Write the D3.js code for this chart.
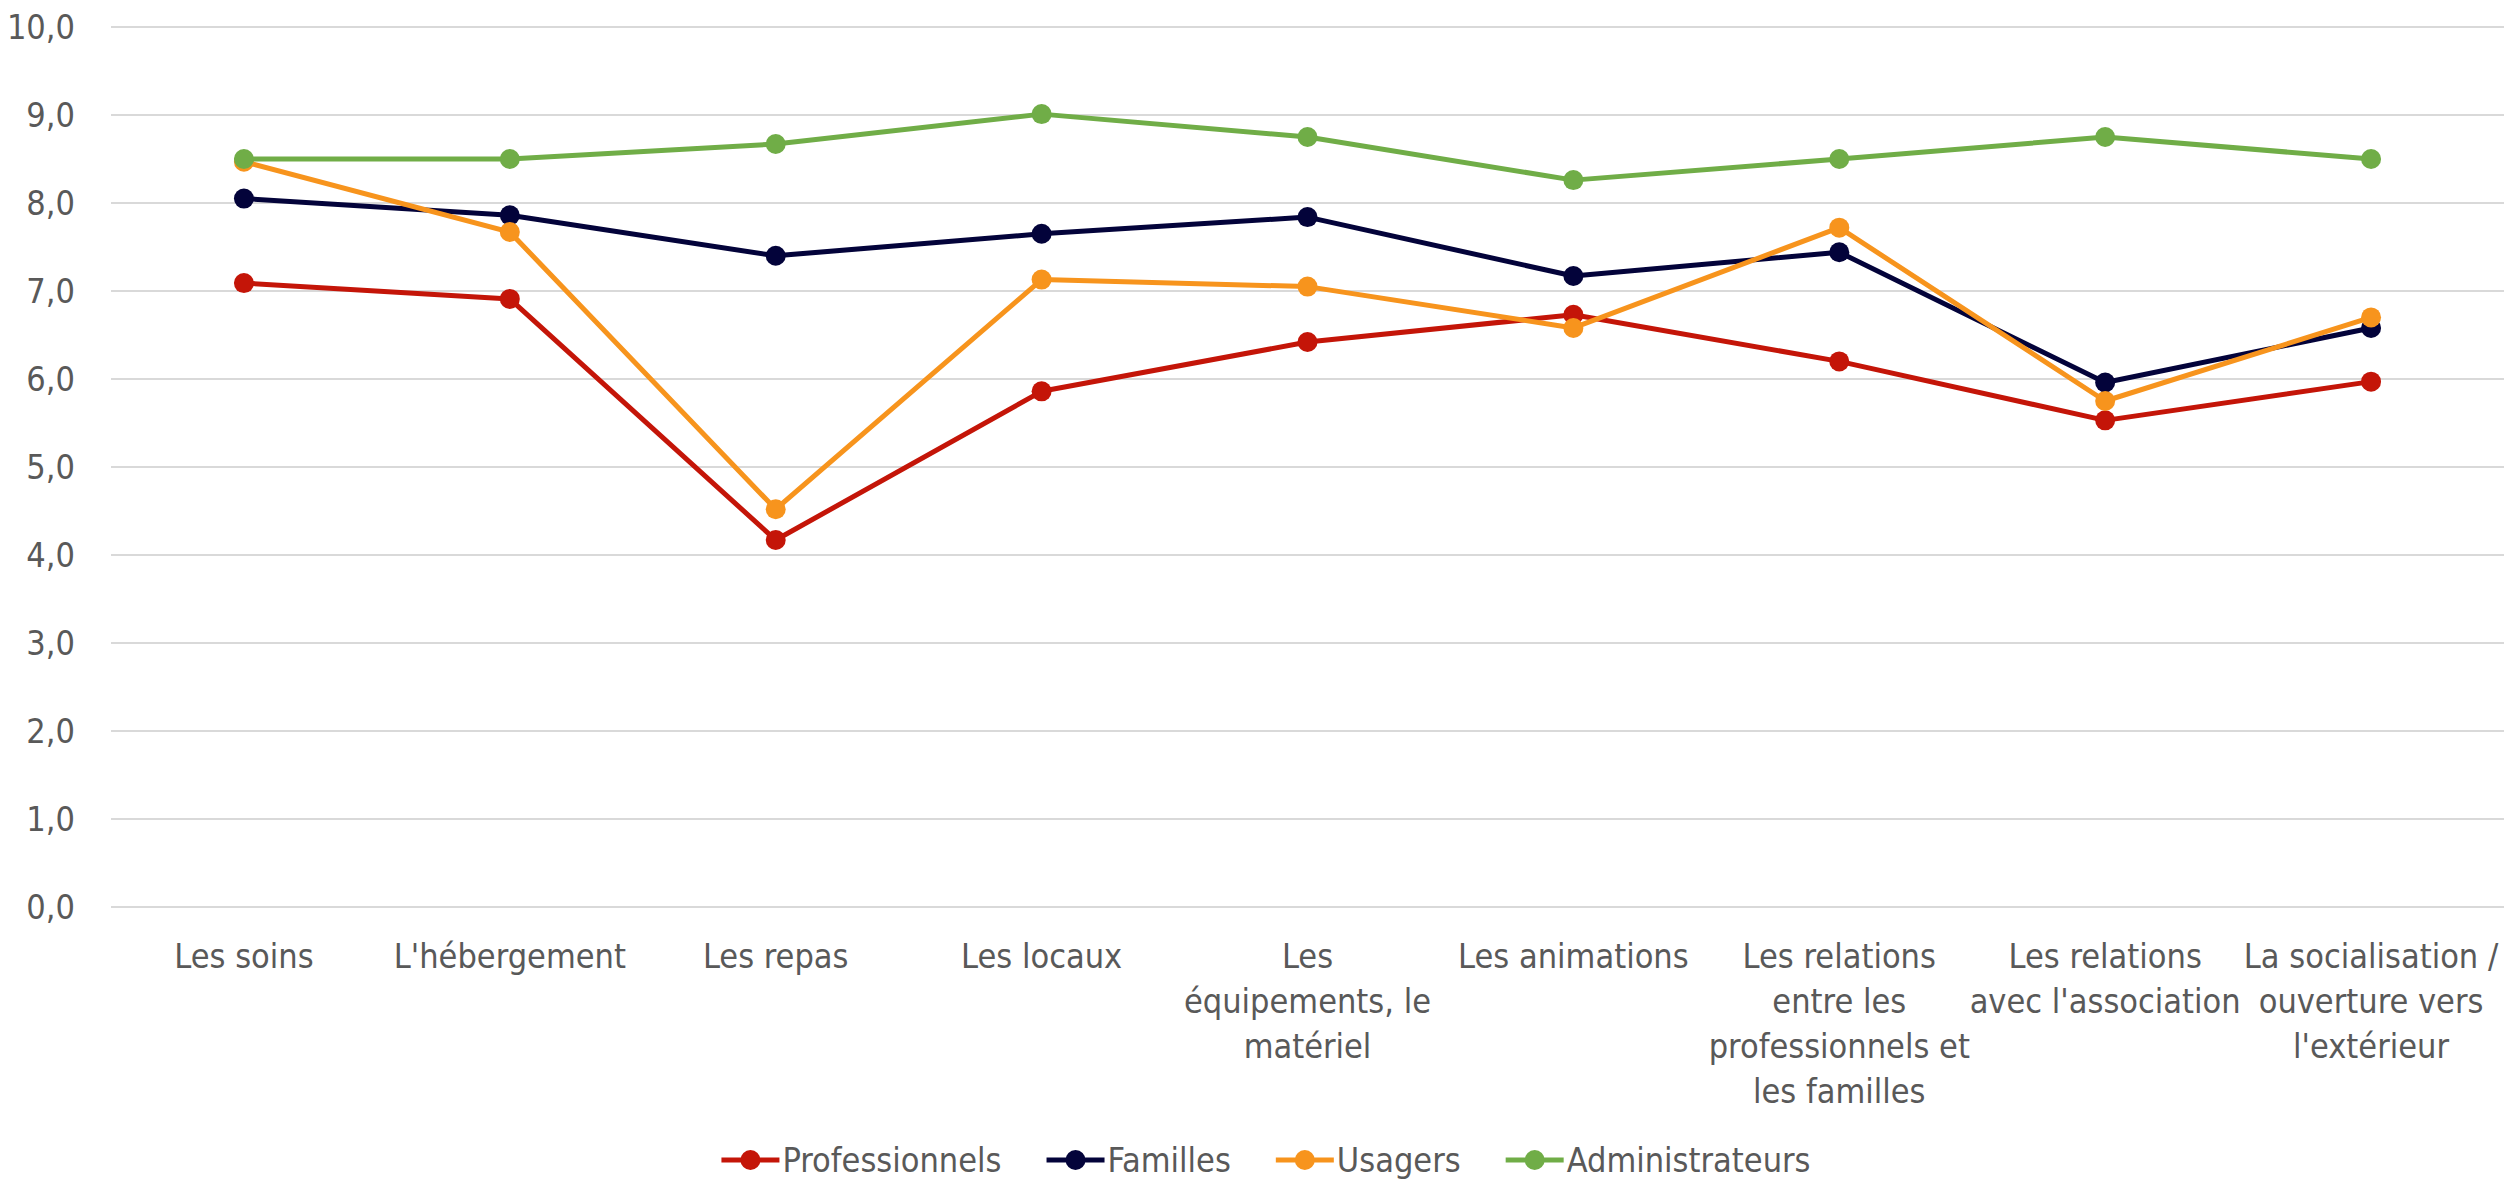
<!DOCTYPE html>
<html lang="fr">
<head>
<meta charset="UTF-8">
<title>Satisfaction par domaine</title>
<script src="https://cdn.jsdelivr.net/npm/d3@7"></script>
<style>
  html, body { margin: 0; padding: 0; background: #fff; }
  text { font-family: "Liberation Sans Narrow", "DejaVu Sans Condensed", "Open Sans", sans-serif; fill: #595959; }
</style>
</head>
<body>
<svg id="chart" width="2504" height="1179"></svg>
<script>
// categories (line breaks as in the original chart)
const categories = [
  "Les soins",
  "L'hébergement",
  "Les repas",
  "Les locaux",
  "Les\néquipements, le\nmatériel",
  "Les animations",
  "Les relations\nentre les\nprofessionnels et\nles familles",
  "Les relations\navec l'association",
  "La socialisation /\nouverture vers\nl'extérieur"
];

const seriesNames = ["Professionnels", "Familles", "Usagers", "Administrateurs"];
const seriesColors = ["#C41508", "#03033A", "#F7941D", "#70AD47"];

// values
const professionnels = [7.09, 6.91, 4.17, 5.86, 6.42, 6.73, 6.20, 5.53, 5.97];
const familles       = [8.05, 7.86, 7.40, 7.65, 7.84, 7.17, 7.44, 5.96, 6.58];
const usagers        = [8.47, 7.67, 4.52, 7.13, 7.05, 6.58, 7.72, 5.75, 6.70];
const administrateurs = [8.50, 8.50, 8.67, 9.01, 8.75, 8.26, 8.50, 8.75, 8.50];

const yTicks = [0, 1, 2, 3, 4, 5, 6, 7, 8, 9, 10];

const seriesValues = [professionnels, familles, usagers, administrateurs];

const svg = d3.select("#chart");
const fontSize = 34;

const x = d3.scaleBand().domain(categories).range([111, 2504]).padding(0);
const y = d3.scaleLinear().domain([0, 10]).range([907, 27]);

// gridlines
svg.append("g")
  .selectAll("line")
  .data(yTicks)
  .enter().append("line")
  .attr("x1", 111).attr("x2", 2504)
  .attr("y1", d => y(d)).attr("y2", d => y(d))
  .attr("stroke", "#D9D9D9")
  .attr("stroke-width", 2);

// y labels
const fmt = d => d.toFixed(1).replace(".", ",");
svg.append("g")
  .selectAll("text")
  .data(yTicks)
  .enter().append("text")
  .attr("x", 75)
  .attr("y", d => y(d))
  .attr("dy", "0.35em")
  .attr("text-anchor", "end")
  .style("font-size", fontSize + "px")
  .text(fmt);

// x labels
const xl = svg.append("g")
  .selectAll("text")
  .data(categories)
  .enter().append("text")
  .attr("text-anchor", "middle")
  .style("font-size", fontSize + "px");

xl.each(function(d) {
  const t = d3.select(this);
  const cx = x(d) + x.bandwidth() / 2;
  d.split("\n").forEach((line, i) => {
    t.append("tspan").attr("x", cx).attr("y", 968 + i * 45).text(line);
  });
});

// lines + markers
const line = d3.line()
  .x((d, i) => x(categories[i]) + x.bandwidth() / 2)
  .y(d => y(d));

seriesValues.forEach((vals, s) => {
  const g = svg.append("g");
  g.append("path")
    .datum(vals)
    .attr("d", line)
    .attr("fill", "none")
    .attr("stroke", seriesColors[s])
    .attr("stroke-width", 5)
    .attr("stroke-linejoin", "round");
  g.selectAll("circle")
    .data(vals)
    .enter().append("circle")
    .attr("cx", (d, i) => x(categories[i]) + x.bandwidth() / 2)
    .attr("cy", d => y(d))
    .attr("r", 10)
    .attr("fill", seriesColors[s]);
});

// legend
const legend = svg.append("g");
const legY = 1160;
const items = seriesNames.map((name, i) => {
  const g = legend.append("g");
  g.append("line")
    .attr("x1", 0).attr("x2", 58)
    .attr("y1", legY).attr("y2", legY)
    .attr("stroke", seriesColors[i]).attr("stroke-width", 5);
  g.append("circle")
    .attr("cx", 29).attr("cy", legY).attr("r", 10)
    .attr("fill", seriesColors[i]);
  const t = g.append("text")
    .attr("x", 61).attr("y", legY).attr("dy", "0.35em")
    .style("font-size", fontSize + "px")
    .text(name);
  return { g, w: 61 + t.node().getComputedTextLength() };
});
const gap = 45;
const total = d3.sum(items, d => d.w) + gap * (items.length - 1);
let pos = 1266 - total / 2;
items.forEach(it => {
  it.g.attr("transform", `translate(${pos},0)`);
  pos += it.w + gap;
});
</script>
</body>
</html>
